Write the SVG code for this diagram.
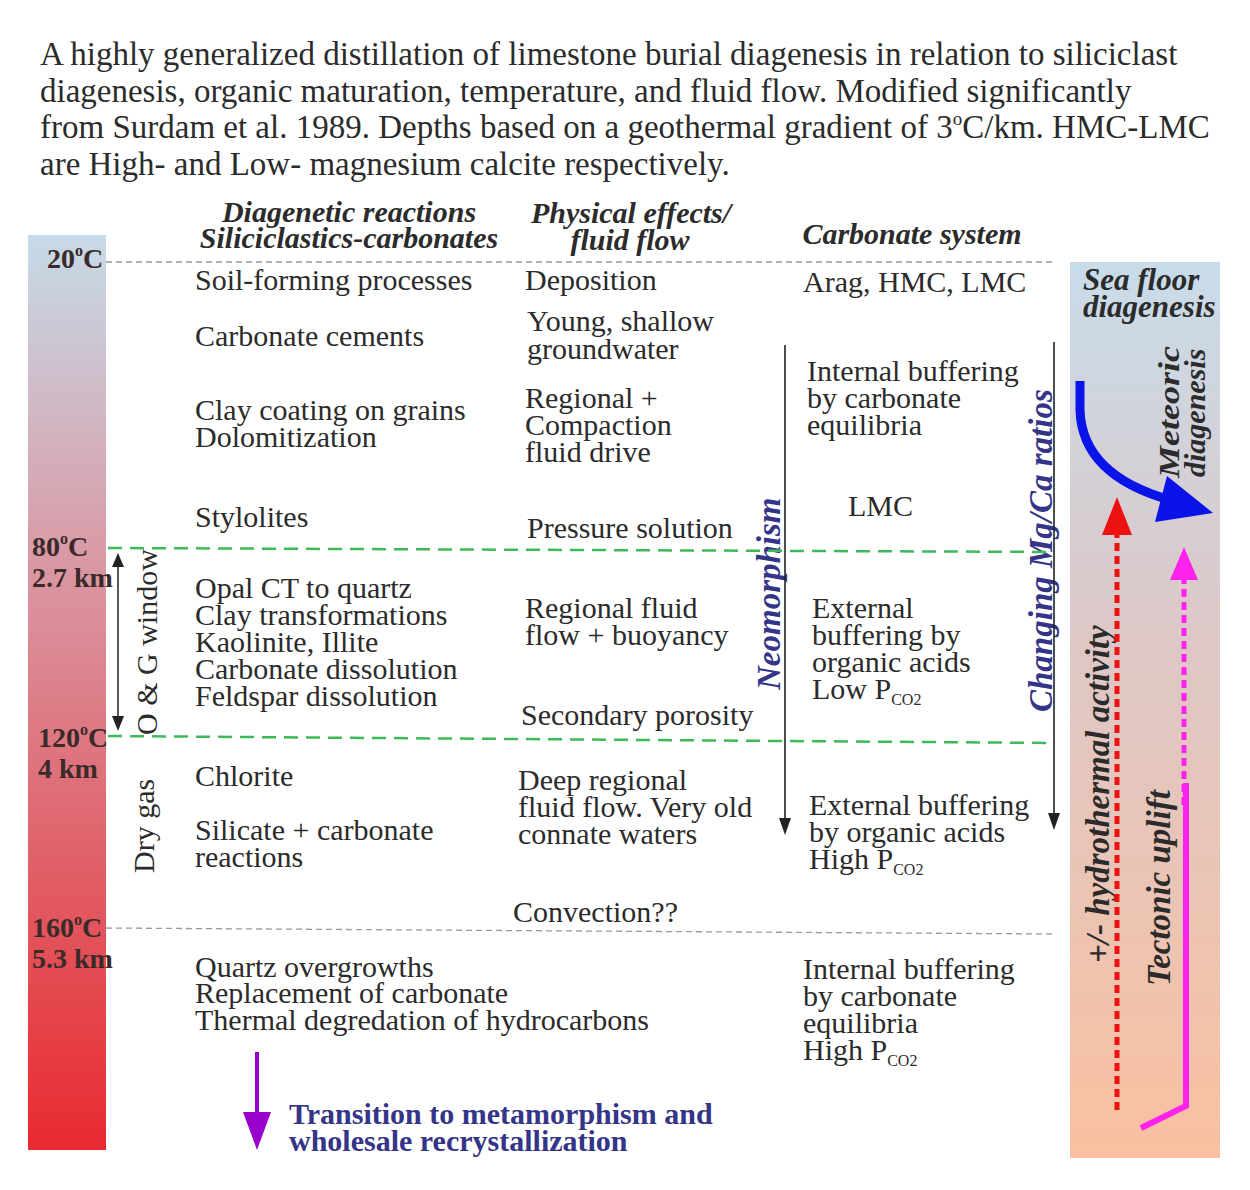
<svg xmlns="http://www.w3.org/2000/svg" width="1250" height="1190" viewBox="0 0 1250 1190">
<defs>
<linearGradient id="gL" x1="0" y1="0" x2="0" y2="1">
<stop offset="0" stop-color="#c6dbe8"/>
<stop offset="0.35" stop-color="#d99aa6"/>
<stop offset="1" stop-color="#e82a2f"/>
</linearGradient>
<linearGradient id="gR" x1="0" y1="0" x2="0" y2="1">
<stop offset="0" stop-color="#c8dcea"/>
<stop offset="0.4" stop-color="#dcc8c8"/>
<stop offset="1" stop-color="#f9c0a0"/>
</linearGradient>
<style>
text{font-family:"Liberation Serif","Times New Roman",serif;fill:#2b2b2b}
.t{font-size:33px}
.b{font-size:30px}
.h{font-size:30px;font-weight:bold;font-style:italic}
.d{font-size:28px;font-weight:bold;fill:#3a2a2a}
.v{font-size:33px;font-weight:bold;font-style:italic;fill:#343488}
.r{font-size:30px;font-weight:bold;font-style:italic;fill:#2b2b2b}
.n{font-size:30px;font-weight:bold;fill:#343488}
.sub{font-size:16px}
.deg{font-size:16px}
.gd{stroke:#999;stroke-width:1.3;stroke-dasharray:6,4;fill:none}
.gr{stroke:#3dbb5a;stroke-width:2.5;stroke-dasharray:14,8;fill:none}
</style>
</defs>
<rect width="1250" height="1190" fill="#fff"/>

<g id="title">
<text class="t" x="40" y="65">A highly generalized distillation of limestone burial diagenesis in relation to siliciclast</text>
<text class="t" x="40" y="102">diagenesis, organic maturation, temperature, and fluid flow.  Modified significantly</text>
<text class="t" x="40" y="138">from Surdam et al. 1989. Depths based on a geothermal gradient of 3<tspan font-size="19" dy="-13">o</tspan><tspan dy="13">C/km. HMC-LMC</tspan></text>
<text class="t" x="40" y="175">are High- and Low- magnesium calcite respectively.</text>
</g>

<g id="temp-bar">
<rect x="28" y="235" width="78" height="915" fill="url(#gL)"/>
<text class="d" x="47" y="268">20<tspan class="deg" dy="-12">o</tspan><tspan dy="12">C</tspan></text>
<text class="d" x="32" y="556">80<tspan class="deg" dy="-12">o</tspan><tspan dy="12">C</tspan></text>
<text class="d" x="32" y="587">2.7 km</text>
<text class="d" x="38" y="747">120<tspan class="deg" dy="-12">o</tspan><tspan dy="12">C</tspan></text>
<text class="d" x="38" y="778">4 km</text>
<text class="d" x="32" y="937">160<tspan class="deg" dy="-12">o</tspan><tspan dy="12">C</tspan></text>
<text class="d" x="32" y="968">5.3 km</text>
</g>

<g id="right-bar">
<rect x="1070" y="262" width="150" height="896" fill="url(#gR)"/>
<text class="r" style="font-size:31px" x="1083" y="290">Sea floor</text>
<text class="r" style="font-size:31px" x="1083" y="317">diagenesis</text>
<text class="r" transform="translate(1179,478) rotate(-90) scale(1.2,1)">Meteoric</text>
<text class="r" transform="translate(1205,477) rotate(-90)">diagenesis</text>
<text class="r" style="font-size:33px" transform="translate(1109,963) rotate(-90)">+/- hydrothermal activity</text>
<text class="r" style="font-size:33px" transform="translate(1170,986) rotate(-90)">Tectonic uplift</text>
</g>

<g id="headers">
<text class="h" x="349" y="222" text-anchor="middle">Diagenetic reactions</text>
<text class="h" x="349" y="248" text-anchor="middle">Siliciclastics-carbonates</text>
<text class="h" x="631" y="223" text-anchor="middle">Physical effects/</text>
<text class="h" x="630" y="250" text-anchor="middle">fluid flow</text>
<text class="h" x="912" y="244" text-anchor="middle">Carbonate system</text>
</g>

<g id="col-reactions">
<text class="b" x="195" y="290">Soil-forming processes</text>
<text class="b" x="195" y="346">Carbonate cements</text>
<text class="b" x="195" y="420">Clay coating on grains</text>
<text class="b" x="195" y="447">Dolomitization</text>
<text class="b" x="195" y="527">Stylolites</text>
<text class="b" x="195" y="598">Opal CT to quartz</text>
<text class="b" x="195" y="625">Clay transformations</text>
<text class="b" x="195" y="652">Kaolinite, Illite</text>
<text class="b" x="195" y="679">Carbonate dissolution</text>
<text class="b" x="195" y="706">Feldspar dissolution</text>
<text class="b" x="195" y="786">Chlorite</text>
<text class="b" x="195" y="840">Silicate + carbonate</text>
<text class="b" x="195" y="867">reactions</text>
<text class="b" x="195" y="977">Quartz overgrowths</text>
<text class="b" x="195" y="1003">Replacement of carbonate</text>
<text class="b" x="195" y="1030">Thermal degredation of hydrocarbons</text>
<text class="b" transform="translate(157,735) rotate(-90)">O &amp; G window</text>
<text class="b" transform="translate(154,873) rotate(-90)">Dry gas</text>
</g>

<g id="col-physical">
<text class="b" x="525" y="290">Deposition</text>
<text class="b" x="527" y="331">Young, shallow</text>
<text class="b" x="527" y="359">groundwater</text>
<text class="b" x="525" y="408">Regional +</text>
<text class="b" x="525" y="435">Compaction</text>
<text class="b" x="525" y="462">fluid drive</text>
<text class="b" x="527" y="538">Pressure solution</text>
<text class="b" x="525" y="618">Regional fluid</text>
<text class="b" x="525" y="645">flow + buoyancy</text>
<text class="b" x="521" y="725">Secondary porosity</text>
<text class="b" x="518" y="790">Deep regional</text>
<text class="b" x="518" y="817">fluid flow. Very old</text>
<text class="b" x="518" y="844">connate waters</text>
<text class="b" x="513" y="922">Convection??</text>
</g>

<g id="col-carbonate">
<text class="b" x="803" y="292">Arag, HMC, LMC</text>
<text class="b" x="807" y="381">Internal buffering</text>
<text class="b" x="807" y="408">by carbonate</text>
<text class="b" x="807" y="435">equilibria</text>
<text class="b" x="848" y="516">LMC</text>
<text class="b" x="812" y="618">External</text>
<text class="b" x="812" y="645">buffering by</text>
<text class="b" x="812" y="672">organic acids</text>
<text class="b" x="812" y="699">Low P<tspan class="sub" dy="6">CO2</tspan></text>
<text class="b" x="809" y="815">External buffering</text>
<text class="b" x="809" y="842">by organic acids</text>
<text class="b" x="809" y="869">High P<tspan class="sub" dy="6">CO2</tspan></text>
<text class="b" x="803" y="979">Internal buffering</text>
<text class="b" x="803" y="1006">by carbonate</text>
<text class="b" x="803" y="1033">equilibria</text>
<text class="b" x="803" y="1060">High P<tspan class="sub" dy="6">CO2</tspan></text>
<text class="v" transform="translate(780,690) rotate(-90)">Neomorphism</text>
<text class="v" transform="translate(1052,712) rotate(-90)">Changing Mg/Ca ratios</text>
</g>

<g id="bottom-note">
<text class="n" x="289" y="1124">Transition to metamorphism and</text>
<text class="n" x="289" y="1151">wholesale recrystallization</text>
</g>

<g id="connectors">
<line class="gd" x1="106" y1="262" x2="1055" y2="262"/>
<line class="gd" x1="106" y1="928" x2="1055" y2="934"/>
<line class="gr" x1="108" y1="548" x2="1055" y2="552"/>
<line class="gr" x1="108" y1="736" x2="1055" y2="743"/>
<line x1="118" y1="565" x2="118" y2="718" stroke="#222" stroke-width="1.5"/>
<path d="M112,567 L118,553 L124,567 Z" fill="#222"/>
<path d="M112,716 L118,731 L124,716 Z" fill="#222"/>
<line x1="785" y1="345" x2="785" y2="820" stroke="#222" stroke-width="1.6"/>
<path d="M779,818 L785,835 L791,818 Z" fill="#222"/>
<line x1="1054" y1="342" x2="1054" y2="815" stroke="#222" stroke-width="1.6"/>
<path d="M1048,813 L1054,830 L1060,813 Z" fill="#222"/>
<path d="M1080,381 L1080,410 Q1082,475 1170,500" fill="none" stroke="#0a14e8" stroke-width="9"/>
<path d="M1167,476 L1213,513 L1155,522 Z" fill="#0a14e8"/>
<line x1="1117" y1="1110" x2="1117" y2="535" stroke="#ee1111" stroke-width="5" stroke-dasharray="8,5"/>
<path d="M1102,535 L1117,497 L1132,535 Z" fill="#ee1111"/>
<line x1="1184" y1="805" x2="1184" y2="578" stroke="#ff22ee" stroke-width="5" stroke-dasharray="8,5"/>
<path d="M1170,580 L1184,547 L1198,580 Z" fill="#ff22ee"/>
<polyline points="1141,1128 1186,1106 1186,783" fill="none" stroke="#ff22ee" stroke-width="6"/>
<line x1="257" y1="1052" x2="257" y2="1115" stroke="#9a00cc" stroke-width="4"/>
<path d="M243,1112 L257,1150 L271,1112 Z" fill="#9a00cc"/>
</g>
</svg>
